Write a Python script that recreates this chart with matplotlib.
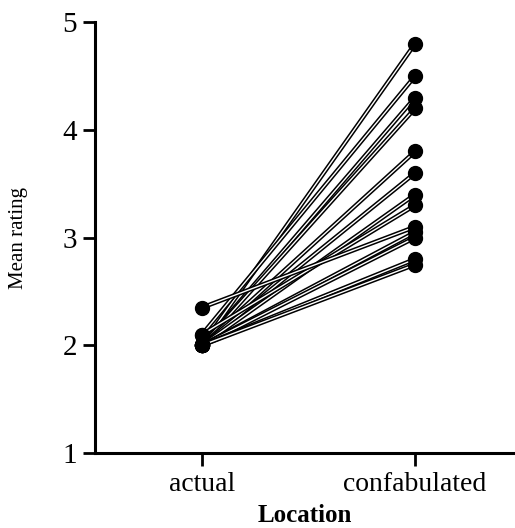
"""Mean rating by location: actual vs confabulated, paired per participant."""

import matplotlib
matplotlib.use("Agg")
import matplotlib.pyplot as plt
import matplotlib.patheffects as pe

locations = ["actual", "confabulated"]
actual = [2.0, 2.1, 2.0, 2.0, 2.0, 2.0, 2.0, 2.1, 2.35, 2.0, 2.0, 2.0, 2.0]
confabulated = [4.8, 4.5, 4.3, 4.2, 3.8, 3.6, 3.4, 3.3, 3.1, 3.05, 3.0, 2.8, 2.75]

plt.rcParams["font.family"] = ["Liberation Serif", "DejaVu Serif"]

fig = plt.figure(figsize=(5.15, 5.28), dpi=100)
ax = fig.add_axes([0.1845, 0.142, 0.8155, 0.816])

xs = range(len(locations))
hollow = [pe.Stroke(linewidth=3.2, foreground="black"), pe.Stroke(linewidth=1.0, foreground="white")]
for a, c in zip(actual, confabulated):
    ax.plot(xs, [a, c], color="black", linewidth=1.0, path_effects=hollow, zorder=2)
    ax.plot(xs, [a, c], linestyle="none", marker="o", markersize=10,
            color="black", zorder=3)

ax.set_xlim(-0.502, 1.469)
ax.set_ylim(1, 5)
ax.set_yticks([1, 2, 3, 4, 5])
ax.set_xticks(list(xs))
ax.set_xticklabels(locations, fontsize=20)
ax.tick_params(axis="y", labelsize=21, width=2, length=9, pad=4)
ax.tick_params(axis="x", width=2, length=9, pad=5)
ax.spines["top"].set_visible(False)
ax.spines["right"].set_visible(False)
ax.spines["left"].set_linewidth(2.2)
ax.spines["bottom"].set_linewidth(2.2)
ax.set_ylabel("Mean rating", fontsize=15, va="center")
ax.yaxis.set_label_coords(-0.183, 0.5)
ax.set_xlabel("Location", fontsize=18, fontweight="bold", va="bottom")
ax.xaxis.set_label_coords(0.5, -0.172)

fig.savefig("out.png", dpi=100)
